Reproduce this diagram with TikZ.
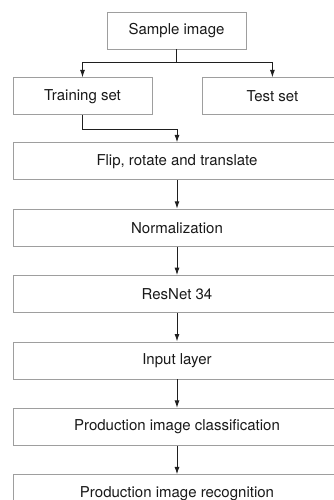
\documentclass[tikz,border=0pt]{standalone}
\usepackage{fontspec}
\setmainfont{TeX Gyre Heros}
\usetikzlibrary{positioning,arrows.meta}

\definecolor{boxgray}{gray}{0.62}
\definecolor{linegray}{gray}{0.12}
\definecolor{textgray}{gray}{0.1}

\begin{document}
\begin{tikzpicture}[
    font=\fontsize{15}{18}\selectfont,
    box/.style={draw=boxgray, line width=0.9pt, text=textgray, inner sep=0pt,
      minimum height=37pt, minimum width=139pt},
    wide/.style={box, minimum width=328pt},
    arrow/.style={draw=linegray, line width=1pt, -{Latex[length=7.5pt,width=5pt]}},
  ]
    \useasboundingbox (-176.5pt,30.5pt) rectangle (157.5pt,-469.5pt);
    \clip (-176.5pt,30.5pt) rectangle (157.5pt,-469.5pt);

    \node[box] (sample) at (0,0) {Sample image};
    \node[box, below=28pt of sample, xshift=-94pt] (train) {Training set};
    \node[box, right=50pt of train] (test) {Test set};

    \node[wide, below=27pt of train.south west, anchor=north west] (flip) {Flip, rotate and translate};
    \node[wide, below=28.5pt of flip] (norm) {Normalization};
    \node[wide, below=28.5pt of norm] (resnet) {ResNet 34};
    \node[wide, below=28.5pt of resnet] (input) {Input layer};
    \node[wide, below=28.5pt of input] (classif) {Production image classification};
    \node[wide, below=28.5pt of classif] (recog) {Production image recognition};

    % split into training and test
    \coordinate[below=13pt of sample.south] (fork);
    \draw[draw=linegray, line width=1pt] (sample.south) -- (fork);
    \draw[arrow] (fork) -| (train.north);
    \draw[arrow] (fork) -| (test.north);

    % training branch goes on
    \coordinate[below=14pt of train.south] (bend);
    \draw[arrow] (train.south) -- (bend) -| (flip.north);

    \foreach \a/\b in {flip/norm, norm/resnet, resnet/input, input/classif, classif/recog}
      \draw[arrow] (\a) -- (\b);
\end{tikzpicture}
\end{document}
